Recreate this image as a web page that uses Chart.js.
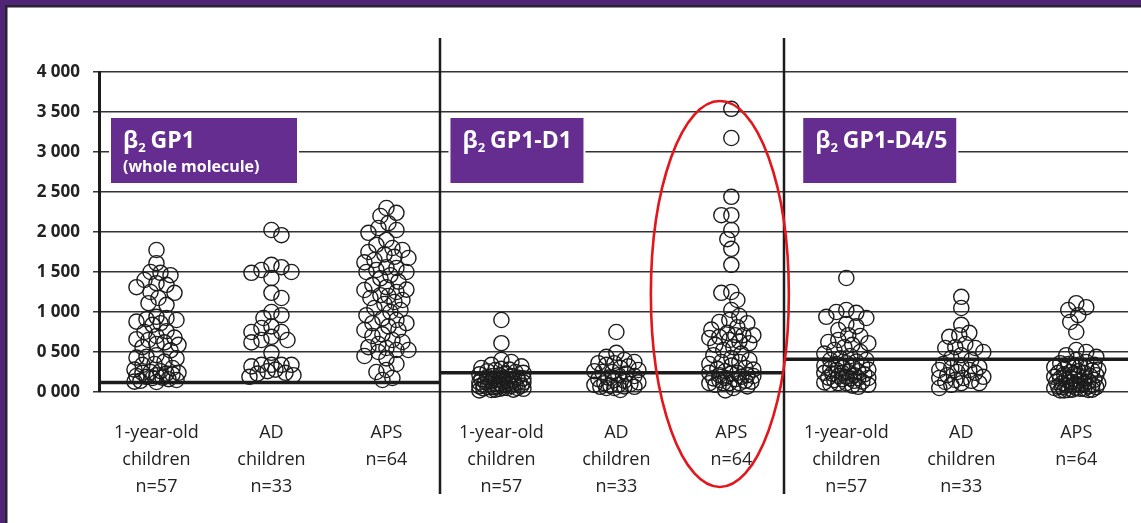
<!DOCTYPE html>
<html><head><meta charset="utf-8">
<script src="https://cdn.jsdelivr.net/npm/chart.js@4.4.0/dist/chart.umd.min.js"></script>
<style>html,body{margin:0;padding:0;background:#fff;overflow:hidden}</style>
</head><body>
<canvas id="c" width="1141" height="523"></canvas>
<script>
// ---------- DATA ----------
const categoryLabels = [
  ['1-year-old','children','n=57'], ['AD','children','n=33'], ['APS','n=64'],
  ['1-year-old','children','n=57'], ['AD','children','n=33'], ['APS','n=64'],
  ['1-year-old','children','n=57'], ['AD','children','n=33'], ['APS','n=64']
];
const panelTitles = ['GP1', 'GP1-D1', 'GP1-D4/5'];
const panelSubtitles = ['(whole molecule)', '', ''];
const thresholds = [120, 240, 410];
const yTickValues = [0, 500, 1000, 1500, 2000, 2500, 3000, 3500, 4000];

const gp1Children = [1775,1610,1500,1490,1460,1400,1360,1340,1310,1250,1240,1175,1110,1090,940,925,910,900,880,860,840,760,750,700,680,660,650,620,600,590,560,520,460,440,430,420,380,350,340,300,280,260,250,240,240,230,220,210,200,190,180,175,160,150,140,130,125];
const gp1AD = [2025,1960,1590,1560,1525,1500,1490,1425,1240,1175,1000,960,925,820,800,750,750,690,650,650,620,490,340,340,340,340,320,280,260,240,230,210,190];
const gp1APS = [2300,2240,2200,2110,2050,2025,1990,1900,1840,1800,1775,1750,1720,1690,1675,1650,1620,1560,1550,1525,1500,1500,1460,1420,1380,1340,1310,1280,1275,1250,1210,1200,1175,1150,1125,1100,1050,1025,1000,960,920,900,860,860,820,775,775,720,700,650,625,600,560,550,525,525,500,450,420,350,275,250,175,150];
const d1Children = [900,610,400,375,340,320,300,290,280,275,260,250,240,230,220,210,200,200,190,180,180,170,160,160,150,150,140,140,130,130,125,120,120,110,110,100,100,100,90,90,80,80,75,70,70,60,60,50,50,50,45,40,40,30,30,25,20];
const d1AD = [750,490,440,400,375,360,360,340,320,300,275,260,250,250,230,210,200,180,160,150,140,120,110,100,90,90,80,70,65,65,50,50,25];
const d1APS = [3540,3175,2440,2210,2210,2025,1910,1790,1590,1250,1240,1150,1025,950,900,875,860,810,780,740,710,710,710,690,675,650,630,610,590,560,525,480,460,425,400,375,375,350,330,300,290,280,260,240,240,230,210,210,200,190,175,170,160,150,140,130,110,110,110,110,90,70,50,20];
const d45Children = [1425,1025,1000,990,940,925,850,820,775,710,700,650,625,610,590,560,525,500,480,450,420,400,400,380,360,350,330,320,310,300,290,280,275,260,250,240,240,230,220,210,200,190,180,175,175,170,160,150,140,130,120,110,110,100,90,80,65];
const d45AD = [1190,1050,840,740,710,690,600,560,550,550,500,460,425,400,350,330,310,300,275,275,250,240,210,190,175,175,150,140,125,110,110,90,50];
const d45APS = [1110,1060,1025,960,875,750,525,500,460,440,400,375,360,350,340,320,310,310,300,290,280,270,260,250,240,240,230,220,210,200,200,190,180,175,170,160,150,150,140,130,125,120,110,110,100,100,90,90,80,80,70,70,60,60,50,50,40,40,30,30,25,25,20,20];

const groups = [gp1Children, gp1AD, gp1APS, d1Children, d1AD, d1APS, d45Children, d45AD, d45APS];

// ---------- STYLE / LAYOUT ----------
const X_MIN = -0.5, X_MAX = 8.45;
const PANEL_EDGES = [X_MIN, 2.47, 5.46, X_MAX];
const INK = '#1c1c1c';
const LABEL_FONT = "'Open Sans', 'DejaVu Sans', sans-serif";
const SWARM = { maxOff: 22, step: 2, minDist: 10 };
const ellipseSpec = { cx: 4.9, rx: 0.6, cy: 1225, ry: 2412 };

function fmtTick(v) {
  return Math.floor(v / 1000) + ' ' + String(v % 1000).padStart(3, '0');
}

const datasets = groups.map((vals, i) => ({
  type: 'scatter',
  data: vals.map(v => ({ x: i, y: v })),
  pointStyle: 'circle',
  pointRadius: 7.6,
  pointHoverRadius: 7.6,
  borderColor: INK,
  backgroundColor: 'rgba(0,0,0,0)',
  borderWidth: 1.4,
  clip: false,
  order: 2
}));
thresholds.forEach((t, p) => {
  datasets.push({
    type: 'line',
    data: [{ x: PANEL_EDGES[p], y: t }, { x: PANEL_EDGES[p + 1], y: t }],
    borderColor: INK,
    borderWidth: 3.5,
    pointRadius: 0,
    clip: false,
    order: 1
  });
});

const decor = {
  id: 'decor',
  beforeDraw(chart) {
    const ctx = chart.ctx;
    ctx.save();
    ctx.fillStyle = '#fff';
    ctx.fillRect(0, 0, chart.width, chart.height);
    ctx.fillStyle = '#4f2477';
    ctx.fillRect(0, 0, 5, chart.height);
    ctx.fillRect(0, 0, chart.width, 5);
    ctx.fillStyle = '#2a2230';
    ctx.fillRect(5, 5, 2.5, chart.height);
    ctx.fillRect(5, 5, chart.width, 2.5);
    ctx.restore();
  },
  afterDraw(chart) {
    const ctx = chart.ctx;
    const xs = chart.scales.x, ys = chart.scales.y;
    ctx.save();
    // panel separators
    ctx.strokeStyle = INK;
    ctx.lineWidth = 2.5;
    [PANEL_EDGES[1], PANEL_EDGES[2]].forEach(b => {
      const px = Math.round(xs.getPixelForValue(b));
      ctx.beginPath();
      ctx.moveTo(px, 38);
      ctx.lineTo(px, 494);
      ctx.stroke();
    });
    // panel title boxes
    const panelLeft = [xs.left, xs.getPixelForValue(PANEL_EDGES[1]), xs.getPixelForValue(PANEL_EDGES[2])];
    const boxOff = [12, 10, 19];
    const boxW = [186, 133, 153];
    const top = 118, h = 65;
    panelTitles.forEach((t, p) => {
      const bx = panelLeft[p] + boxOff[p];
      ctx.fillStyle = '#fff';
      ctx.fillRect(bx - 2, top - 2, boxW[p] + 4, h + 4);
      ctx.fillStyle = '#652d8f';
      ctx.fillRect(bx, top, boxW[p], h);
      ctx.fillStyle = '#fff';
      ctx.textBaseline = 'alphabetic';
      ctx.textAlign = 'left';
      let tx = bx + 12;
      const by = top + 30;
      ctx.font = "bold 23px " + LABEL_FONT;
      ctx.fillText('β', tx, by);
      tx += ctx.measureText('β').width;
      ctx.font = "bold 13px " + LABEL_FONT;
      ctx.fillText('2', tx, by + 4);
      tx += ctx.measureText('2').width + 5;
      ctx.font = "bold 23px " + LABEL_FONT;
      ctx.fillText(t, tx, by);
      if (panelSubtitles[p]) {
        ctx.font = "bold 16px " + LABEL_FONT;
        ctx.fillText(panelSubtitles[p], bx + 12, top + 54);
      }
    });
    // red ellipse
    const cx = xs.getPixelForValue(ellipseSpec.cx);
    const rx = xs.getPixelForValue(ellipseSpec.cx + ellipseSpec.rx) - cx;
    const cy = ys.getPixelForValue(ellipseSpec.cy);
    const ry = cy - ys.getPixelForValue(ellipseSpec.cy + ellipseSpec.ry);
    ctx.strokeStyle = '#e3161c';
    ctx.lineWidth = 2.6;
    ctx.beginPath();
    ctx.ellipse(cx, cy, rx, ry, 0, 0, Math.PI * 2);
    ctx.stroke();
    ctx.restore();
  }
};

const chart = new Chart(document.getElementById('c'), {
  data: { datasets },
  options: {
    responsive: false,
    animation: false,
    devicePixelRatio: 1,
    layout: { padding: { top: 72, right: 13, left: 0, bottom: 0 } },
    plugins: { legend: { display: false }, tooltip: { enabled: false } },
    scales: {
      x: {
        type: 'linear', min: X_MIN, max: X_MAX,
        grid: { display: false },
        border: { display: false },
        afterBuildTicks: s => { s.ticks = categoryLabels.map((_, i) => ({ value: i })); },
        afterFit: s => { s.height = 131; },
        ticks: {
          autoSkip: false, maxRotation: 0, padding: 19,
          color: '#222',
          font: { family: LABEL_FONT, size: 18, lineHeight: 1.5 },
          callback: v => categoryLabels[v]
        }
      },
      y: {
        type: 'linear', min: 0, max: 4000,
        afterBuildTicks: s => { s.ticks = yTickValues.map(v => ({ value: v })); },
        afterFit: s => { s.width = 99; },
        grid: { color: '#333', lineWidth: 1.5, drawTicks: true, tickLength: 6 },
        border: { display: true, width: 3, color: INK },
        ticks: {
          padding: 13, color: '#222',
          font: { family: LABEL_FONT, size: 17, weight: 'bold' },
          callback: v => fmtTick(v)
        }
      }
    }
  },
  plugins: [decor]
});

// deterministic beeswarm layout from the values (pixel space)
function swarm(values, idx) {
  const xs = chart.scales.x, ys = chart.scales.y;
  const pxPerUnit = xs.getPixelForValue(1) - xs.getPixelForValue(0);
  const placed = [];
  return values.map((v, n) => {
    const py = ys.getPixelForValue(v);
    const dir = n % 2 ? 1 : -1;
    const kMax = 2 * Math.floor(SWARM.maxOff / SWARM.step);
    let best = 0, bestD = -1;
    for (let k = 0; k <= kMax; k++) {
      const off = (k % 2 ? dir : -dir) * Math.ceil(k / 2) * SWARM.step;
      let dmin = Infinity;
      for (const p of placed) {
        const d = Math.hypot(p[0] - off, p[1] - py);
        if (d < dmin) dmin = d;
      }
      if (dmin >= SWARM.minDist) { best = off; bestD = dmin; break; }
      if (dmin > bestD + 0.5) { bestD = dmin; best = off; }
    }
    placed.push([best, py]);
    return { x: idx + best / pxPerUnit, y: v };
  });
}
groups.forEach((vals, i) => { chart.data.datasets[i].data = swarm(vals, i); });
chart.update('none');
</script>
</body></html>
